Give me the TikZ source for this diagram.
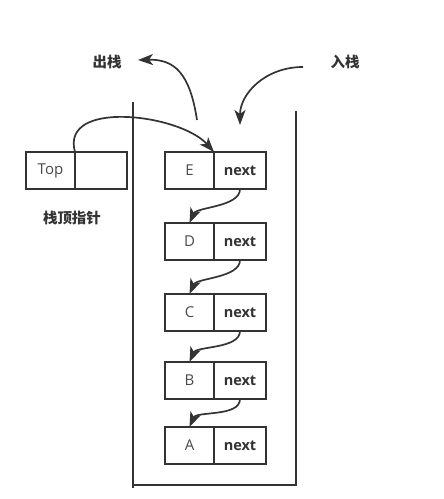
\documentclass[tikz,border=0pt]{standalone}
\usepackage{fontspec}
\setmainfont{Open Sans}
\newfontfamily\cjk{Noto Sans CJK SC}
\usetikzlibrary{arrows.meta, positioning}
\definecolor{ink}{HTML}{333333}
\definecolor{soft}{HTML}{4A4A4A}

\begin{document}
\begin{tikzpicture}[
  x=1pt, y=1pt,
  font=\fontsize{15}{17}\selectfont,
  cell/.style={rectangle, draw=ink, line width=1.8pt, outer sep=0pt, inner sep=0pt,
               minimum width=49pt, minimum height=37pt, text=soft},
  nextcell/.style={cell, minimum width=52pt, font=\fontsize{14.5}{17}\selectfont\bfseries, text=ink},
  ptr/.style={-{Stealth[length=15pt, width=11pt, inset=4pt]}, draw=ink, line width=1.7pt},
  wall/.style={draw=ink, line width=1.8pt},
  lbl/.style={font=\cjk\bfseries\fontsize{14.5}{16}\selectfont, text=ink},
]
\useasboundingbox (0,0) rectangle (444,499);

% ---------- stack top pointer ----------
\node[cell] (topdat) at (50.5,328.5) {Top};
\node[nextcell, right=0pt of topdat] (topnx) {};
\node[lbl] (toplbl) at (72,281) {栈顶指针};

% ---------- the linked nodes, top to bottom ----------
\node[cell] (edat) at (189.5,328.5) {E};
\node[nextcell, right=0pt of edat] (enx) {next};
\node[cell, below=34pt of edat] (ddat) {D};
\node[nextcell, right=0pt of ddat] (dnx) {next};
\node[cell, below=34pt of ddat] (cdat) {C};
\node[nextcell, right=0pt of cdat] (cnx) {next};
\node[cell, below=31pt of cdat] (bdat) {B};
\node[nextcell, right=0pt of bdat] (bnx) {next};
\node[cell, below=28pt of bdat] (adat) {A};
\node[nextcell, right=0pt of adat] (anx) {next};

% ---------- stack walls ----------
\coordinate (wlt) at (133,397);
\coordinate (wlb) at (133,11);
\coordinate (wbl) at (133,14);
\coordinate (wbr) at (296,14);
\coordinate (wrt) at (296,388);
\draw[wall] (wlt) -- (wlb);
\draw[wall] (wbl) -- (wbr) -- (wrt);

% ---------- push / pop ----------
\node[lbl] (poplbl) at (107,437) {出栈};
\node[lbl] (pushlbl) at (345,437) {入栈};
\coordinate (popfrom) at (197,379);
\coordinate (popto) at (138,439);
\coordinate (pushfrom) at (303,432);
\coordinate (pushto) at (240,374);
\draw[ptr] (popfrom) .. controls (190,425) and (175,440) .. (popto);
\draw[ptr] (pushfrom) .. controls (265,432) and (240,405) .. (pushto);

% ---------- pointers ----------
\draw[ptr] (topdat.north east) .. controls +(-15,53) and +(-34,38) .. (enx.north west);
\foreach \a/\b in {enx/ddat, dnx/cdat, cnx/bdat, bnx/adat}
  \draw[ptr] (\a.south) .. controls +(0,-18) and +(7,16) .. (\b.north);

\end{tikzpicture}
\end{document}
